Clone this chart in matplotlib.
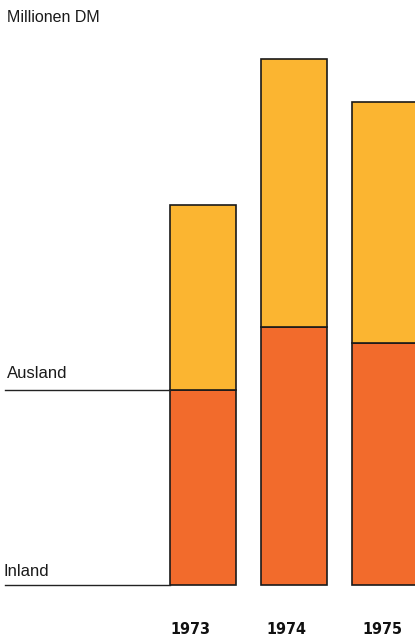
import matplotlib.pyplot as plt

# Umsatz in Millionen DM (Skala ohne Beschriftung)
jahre = ['1973', '1974', '1975']
inland = [195, 258, 242]
ausland = [185, 268, 241]

farbe_inland = '#F26B2C'
farbe_ausland = '#FBB531'

fig = plt.figure(figsize=(4.15, 6.37), dpi=100)
ax = fig.add_axes([0, 0, 1, 1])

x = [0, 1, 2]
breite = 0.725
ax.bar(x, inland, width=breite, color=farbe_inland, edgecolor='#1a1a1a', linewidth=1.2)
ax.bar(x, ausland, bottom=inland, width=breite, color=farbe_ausland,
       edgecolor='#1a1a1a', linewidth=1.2)

# Achsenbereich: 1 Einheit pro Pixel in y
ax.set_xlim(-2.23, 2.33)
ax.set_ylim(-52, 585)
ax.axis('off')

# Hilfslinien links neben den Balken
links = -2.175
ax.plot([links, x[0] - breite / 2], [inland[0], inland[0]], color='#222222', lw=1.0)
ax.plot([links, x[0] - breite / 2], [0, 0], color='#222222', lw=1.0)

schrift = ['Liberation Sans', 'DejaVu Sans']
ax.text(-2.155, 567, 'Millionen DM', fontsize=11.5, family=schrift, va='center', ha='left',
        color='#1a1a1a')
ax.text(-2.155, inland[0] + 16, 'Ausland', fontsize=12, family=schrift, va='center',
        ha='left', color='#1a1a1a')
ax.text(-2.19, 14, 'Inland', fontsize=12, family=schrift, va='center', ha='left',
        color='#1a1a1a')

versatz = [-0.14, -0.08, -0.03]
for xi, jahr, v in zip(x, jahre, versatz):
    ax.text(xi + v, -45, jahr, fontsize=11.5, fontweight='bold', fontstretch='condensed',
            family=['DejaVu Sans'], ha='center', va='center', color='#111111')

fig.savefig('out.png', dpi=100)
